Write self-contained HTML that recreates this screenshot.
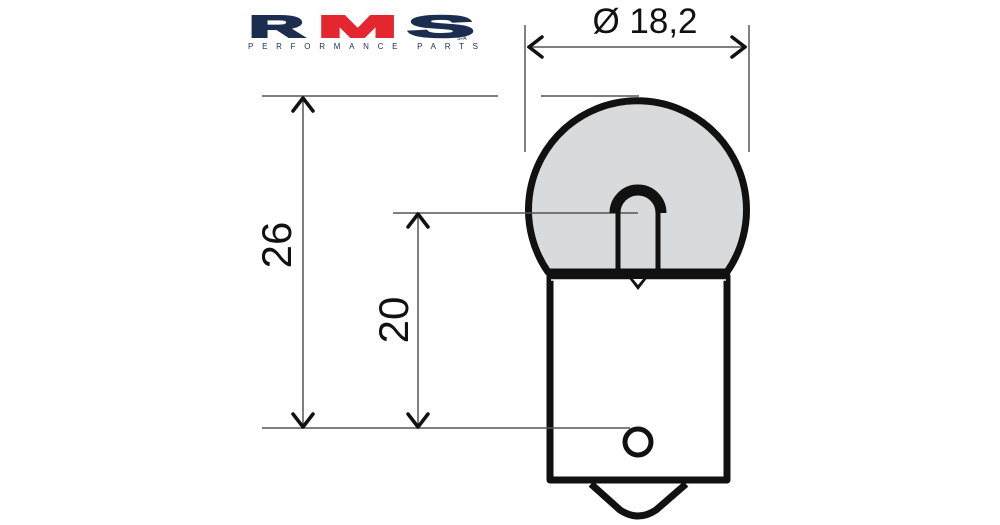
<!DOCTYPE html>
<html><head><meta charset="utf-8"><style>
html,body{margin:0;padding:0;background:#fff;}
svg{display:block}
text{font-family:"Liberation Sans",sans-serif;}
</style></head><body>
<svg width="1000" height="525" viewBox="0 0 1000 525" xmlns="http://www.w3.org/2000/svg">
<g font-weight="bold" stroke-width="2.5">
<text x="0" y="0" font-size="38" fill="#1c2e4f" stroke="#1c2e4f" transform="translate(249,37) scale(2.0,0.8)">R</text>
<text x="0" y="0" font-size="38" fill="#e3262f" stroke="#e3262f" transform="translate(318,37) scale(2.5,0.8)">M</text>
<text x="0" y="0" font-size="38" fill="#1c2e4f" stroke="#1c2e4f" transform="translate(408,37) scale(2.6,0.8)">S</text>
</g>
<text x="457" y="40" font-size="5" fill="#1c2e4f">SPA</text>
<text x="248" y="49" font-size="8" fill="#1c2e4f" textLength="230" lengthAdjust="spacing">PERFORMANCE PARTS</text>

<path d="M548,272 A109,109 0 1 1 727,272 Z" fill="#d8dadb" stroke="#111" stroke-width="7" stroke-linejoin="round"/>
<path d="M550,276 L550,480 L727,480 L727,276 Z" fill="#fff" stroke="#111" stroke-width="7" stroke-linejoin="round"/>
<line x1="548" y1="274" x2="729" y2="274" stroke="#111" stroke-width="6"/>
<line x1="551" y1="280" x2="726" y2="280" stroke="#fff" stroke-width="1.5"/>

<g stroke="#555" stroke-width="1.5" fill="none">
<line x1="525" y1="25" x2="525" y2="152"/>
<line x1="749" y1="25" x2="749" y2="152"/>
<line x1="527" y1="47" x2="747" y2="47"/>
<line x1="262" y1="96" x2="498" y2="96"/>
<line x1="541" y1="96" x2="639" y2="96"/>
<line x1="262" y1="428" x2="630" y2="428"/>
<line x1="393" y1="213" x2="638" y2="213"/>
<line x1="303" y1="97" x2="303" y2="427"/>
<line x1="418" y1="214" x2="418" y2="427"/>
</g>
<g stroke="#111" stroke-width="3.5" fill="none" stroke-linecap="round" stroke-linejoin="round">
<polyline points="542,37 529,47 542,57"/>
<polyline points="732,37 745,47 732,57"/>
<polyline points="293,111 303,98 313,111"/>
<polyline points="293,414 303,427 313,414"/>
<polyline points="408,227 418,214 428,227"/>
<polyline points="408,414 418,427 428,414"/>
</g>
<text x="645" y="33" font-size="35" text-anchor="middle" fill="#111">Ø 18,2</text>
<text transform="translate(291,245) rotate(-90)" font-size="42" text-anchor="middle" fill="#111">26</text>
<text transform="translate(408,320) rotate(-90)" font-size="42" text-anchor="middle" fill="#111">20</text>

<path d="M618,270 L618,213 A20,20 0 0 1 658,213 L658,270" fill="none" stroke="#111" stroke-width="5"/>
<path d="M614,213 A24,24 0 0 1 662,213" fill="none" stroke="#111" stroke-width="9"/>
<polygon points="628,277 648,277 638,290" fill="#111"/>
<polygon points="633,279 643,279 638,285" fill="#fff"/>
<circle cx="638" cy="442" r="13" fill="#fff" stroke="#111" stroke-width="5"/>
<path d="M591,484 L620,510 Q638,522 656,510 L686,484" fill="none" stroke="#111" stroke-width="7" stroke-linejoin="round"/>
</svg>
</body></html>
